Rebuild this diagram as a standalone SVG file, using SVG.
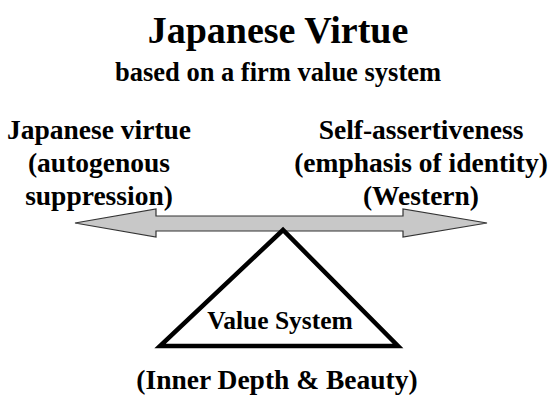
<svg xmlns="http://www.w3.org/2000/svg" width="555" height="401" viewBox="0 0 555 401">
<style>
text{font-family:"Liberation Serif","Times New Roman",serif;font-weight:bold;fill:#000;text-anchor:middle}
.t{font-size:38px}.s{font-size:26.5px}.l{font-size:27.5px}.v{font-size:25.5px}
</style>
<rect width="555" height="401" fill="#fff"/>
<g id="title"><text class="t" x="278" y="43">Japanese Virtue</text><text class="s" x="278" y="81">based on a firm value system</text></g>
<g id="connectors">
<polygon points="75,223 156,209 156,216 403,216 403,209 487,223 403,237 403,231 156,231 156,237" fill="#c8c8c8" stroke="#333" stroke-width="1.2"/>
</g>
<g id="left"><text class="l" x="99" y="139">Japanese virtue</text><text class="l" x="99" y="172">(autogenous</text><text class="l" x="99" y="205">suppression)</text></g>
<g id="right"><text class="l" x="421" y="139">Self-assertiveness</text><text class="l" x="421" y="172">(emphasis of identity)</text><text class="l" x="421" y="205">(Western)</text></g>
<g id="valuesystem"><polygon points="283,230 160,346 398,346" fill="none" stroke="#000" stroke-width="4.5" stroke-linejoin="miter"/><text class="v" x="280" y="329">Value System</text></g>
<g id="bottom"><text class="l" x="277" y="389">(Inner Depth &amp; Beauty)</text></g>
</svg>
